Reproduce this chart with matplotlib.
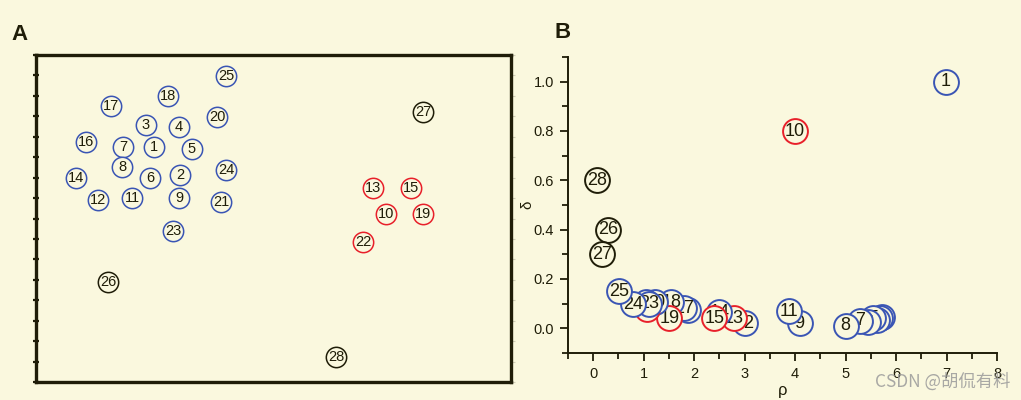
import numpy as np
import matplotlib
matplotlib.use("Agg")
import matplotlib.pyplot as plt

plt.rcParams['font.family'] = ['Liberation Sans', 'DejaVu Sans']

BG = "#faf8de"
INK = "#1f1d08"
BLUE = "#3a55b4"
RED = "#e8202a"

# panel A: 28 points (label, x, y) in plot units
a_labels = list(range(1, 29))
a_x = [118, 144, 110, 143, 156, 114, 87, 86, 143, 350, 96, 62, 337, 40,
       375, 50, 75, 132, 387, 181, 185, 327, 137, 190, 190, 72, 387, 300]
a_y = [235, 207, 257, 255, 233, 204, 235, 215, 184, 168, 184, 182, 194, 204,
       194, 240, 276, 286, 168, 265, 180, 140, 151, 212, 306, 100, 270, 25]

# panel B: decision graph (rho, delta) for the same labels
b_rho = [6.98, 5.73, 5.68, 5.62, 5.55, 5.45, 5.28, 5.00, 4.09, 3.99, 3.88, 3.00,
         2.78, 2.50, 2.40, 1.87, 1.80, 1.55, 1.51, 1.23, 1.05, 1.07, 1.11, 0.79,
         0.52, 0.30, 0.18, 0.08]
b_delta = [1.00, 0.045, 0.040, 0.035, 0.040, 0.025, 0.030, 0.010, 0.020, 0.80,
           0.070, 0.020, 0.040, 0.065, 0.040, 0.073, 0.081, 0.106, 0.040, 0.106,
           0.106, 0.080, 0.100, 0.098, 0.150, 0.40, 0.30, 0.60]

red_ids = [10, 13, 15, 19, 22]
black_ids = [26, 27, 28]


def pick_color(n):
    if n in red_ids:
        return RED
    if n in black_ids:
        return INK
    return BLUE


fig = plt.figure(figsize=(10.21, 4.0), dpi=100, facecolor=BG)

# ---------------- A
rectA = [36/1021, 1-382/400, 475/1021, 327/400]
axA = fig.add_axes(rectA)
axA.set_facecolor(BG)
for i, n in enumerate(a_labels):
    axA.scatter(a_x[i], a_y[i], s=215, facecolor=BG, edgecolor=pick_color(n),
                linewidth=1.1, zorder=3)
    axA.text(a_x[i], a_y[i], str(n), ha='center', va='center', fontsize=10.5,
             color=INK, zorder=4)
axA.set_xlim(0, 475)
axA.set_ylim(0, 327)
for sp in axA.spines.values():
    sp.set_linewidth(2.4)
    sp.set_color(INK)
axA.set_xticks([])
axA.set_yticks(np.linspace(0, 327, 17))
axA.tick_params(axis='y', direction='inout', length=4, width=1.6, color=INK,
                labelleft=False)

# faint ticks on the right edge
axR = axA.twinx()
axR.set_ylim(0, 327)
axR.set_yticks(np.linspace(0, 327, 17))
axR.tick_params(axis='y', direction='out', length=3, width=0.8, color="#cfcdb6",
                labelright=False)
for sp in axR.spines.values():
    sp.set_visible(False)
axA.set_zorder(axR.get_zorder() + 1)
axA.patch.set_visible(True)
axR.patch.set_visible(False)

fig.text(11/1021, 1-34/400, "A", fontsize=16, fontweight='bold', color=INK,
         va='center')

# ---------------- B
axB = fig.add_axes([568/1021, 1-353/400, 429/1021, 296/400])
axB.set_facecolor(BG)
for i in range(len(b_rho)):
    n = i + 1
    axB.scatter(b_rho[i], b_delta[i], s=320, facecolor=BG, edgecolor=pick_color(n),
                linewidth=1.4, zorder=3 + 2*i)
    axB.text(b_rho[i], b_delta[i], str(n), ha='center', va='center', fontsize=13,
             color=INK, zorder=4 + 2*i)
axB.set_xlim(-0.5, 8)
axB.set_ylim(-0.1, 1.1)
axB.set_xticks(range(0, 9))
axB.set_yticks([0.0, 0.2, 0.4, 0.6, 0.8, 1.0])
axB.set_yticklabels(["0.0", "0.2", "0.4", "0.6", "0.8", "1.0"])
axB.set_xticks(np.arange(-0.5, 8, 0.5), minor=True)
axB.set_yticks(np.arange(-0.1, 1.1, 0.1), minor=True)
axB.spines['top'].set_visible(False)
axB.spines['right'].set_visible(False)
for sp in ['left', 'bottom']:
    axB.spines[sp].set_linewidth(1.4)
    axB.spines[sp].set_color(INK)
axB.tick_params(which='major', direction='out', length=6, width=1.3, color=INK,
                labelsize=10.5, labelcolor=INK, pad=4)
axB.tick_params(which='minor', direction='out', length=4, width=1.3, color=INK)
axB.set_xlabel("ρ", fontsize=12, color=INK, va='center')
axB.xaxis.set_label_coords((783-568)/429, -(391-353)/296)
axB.set_ylabel("δ", fontsize=11, color=INK, va='center')
axB.yaxis.set_label_coords(-(568-527)/429, (353-205)/296)
fig.text(554/1021, 1-32/400, "B", fontsize=16, fontweight='bold', color=INK,
         va='center')

fig.text(1010/1021, 1-382/400, "CSDN @胡侃有料", fontsize=12.5, color="#9a9a9a",
         alpha=0.85, ha='right', va='center',
         family=['Noto Sans CJK SC', 'DejaVu Sans'])

fig.savefig("out.png", dpi=100, facecolor=BG)
